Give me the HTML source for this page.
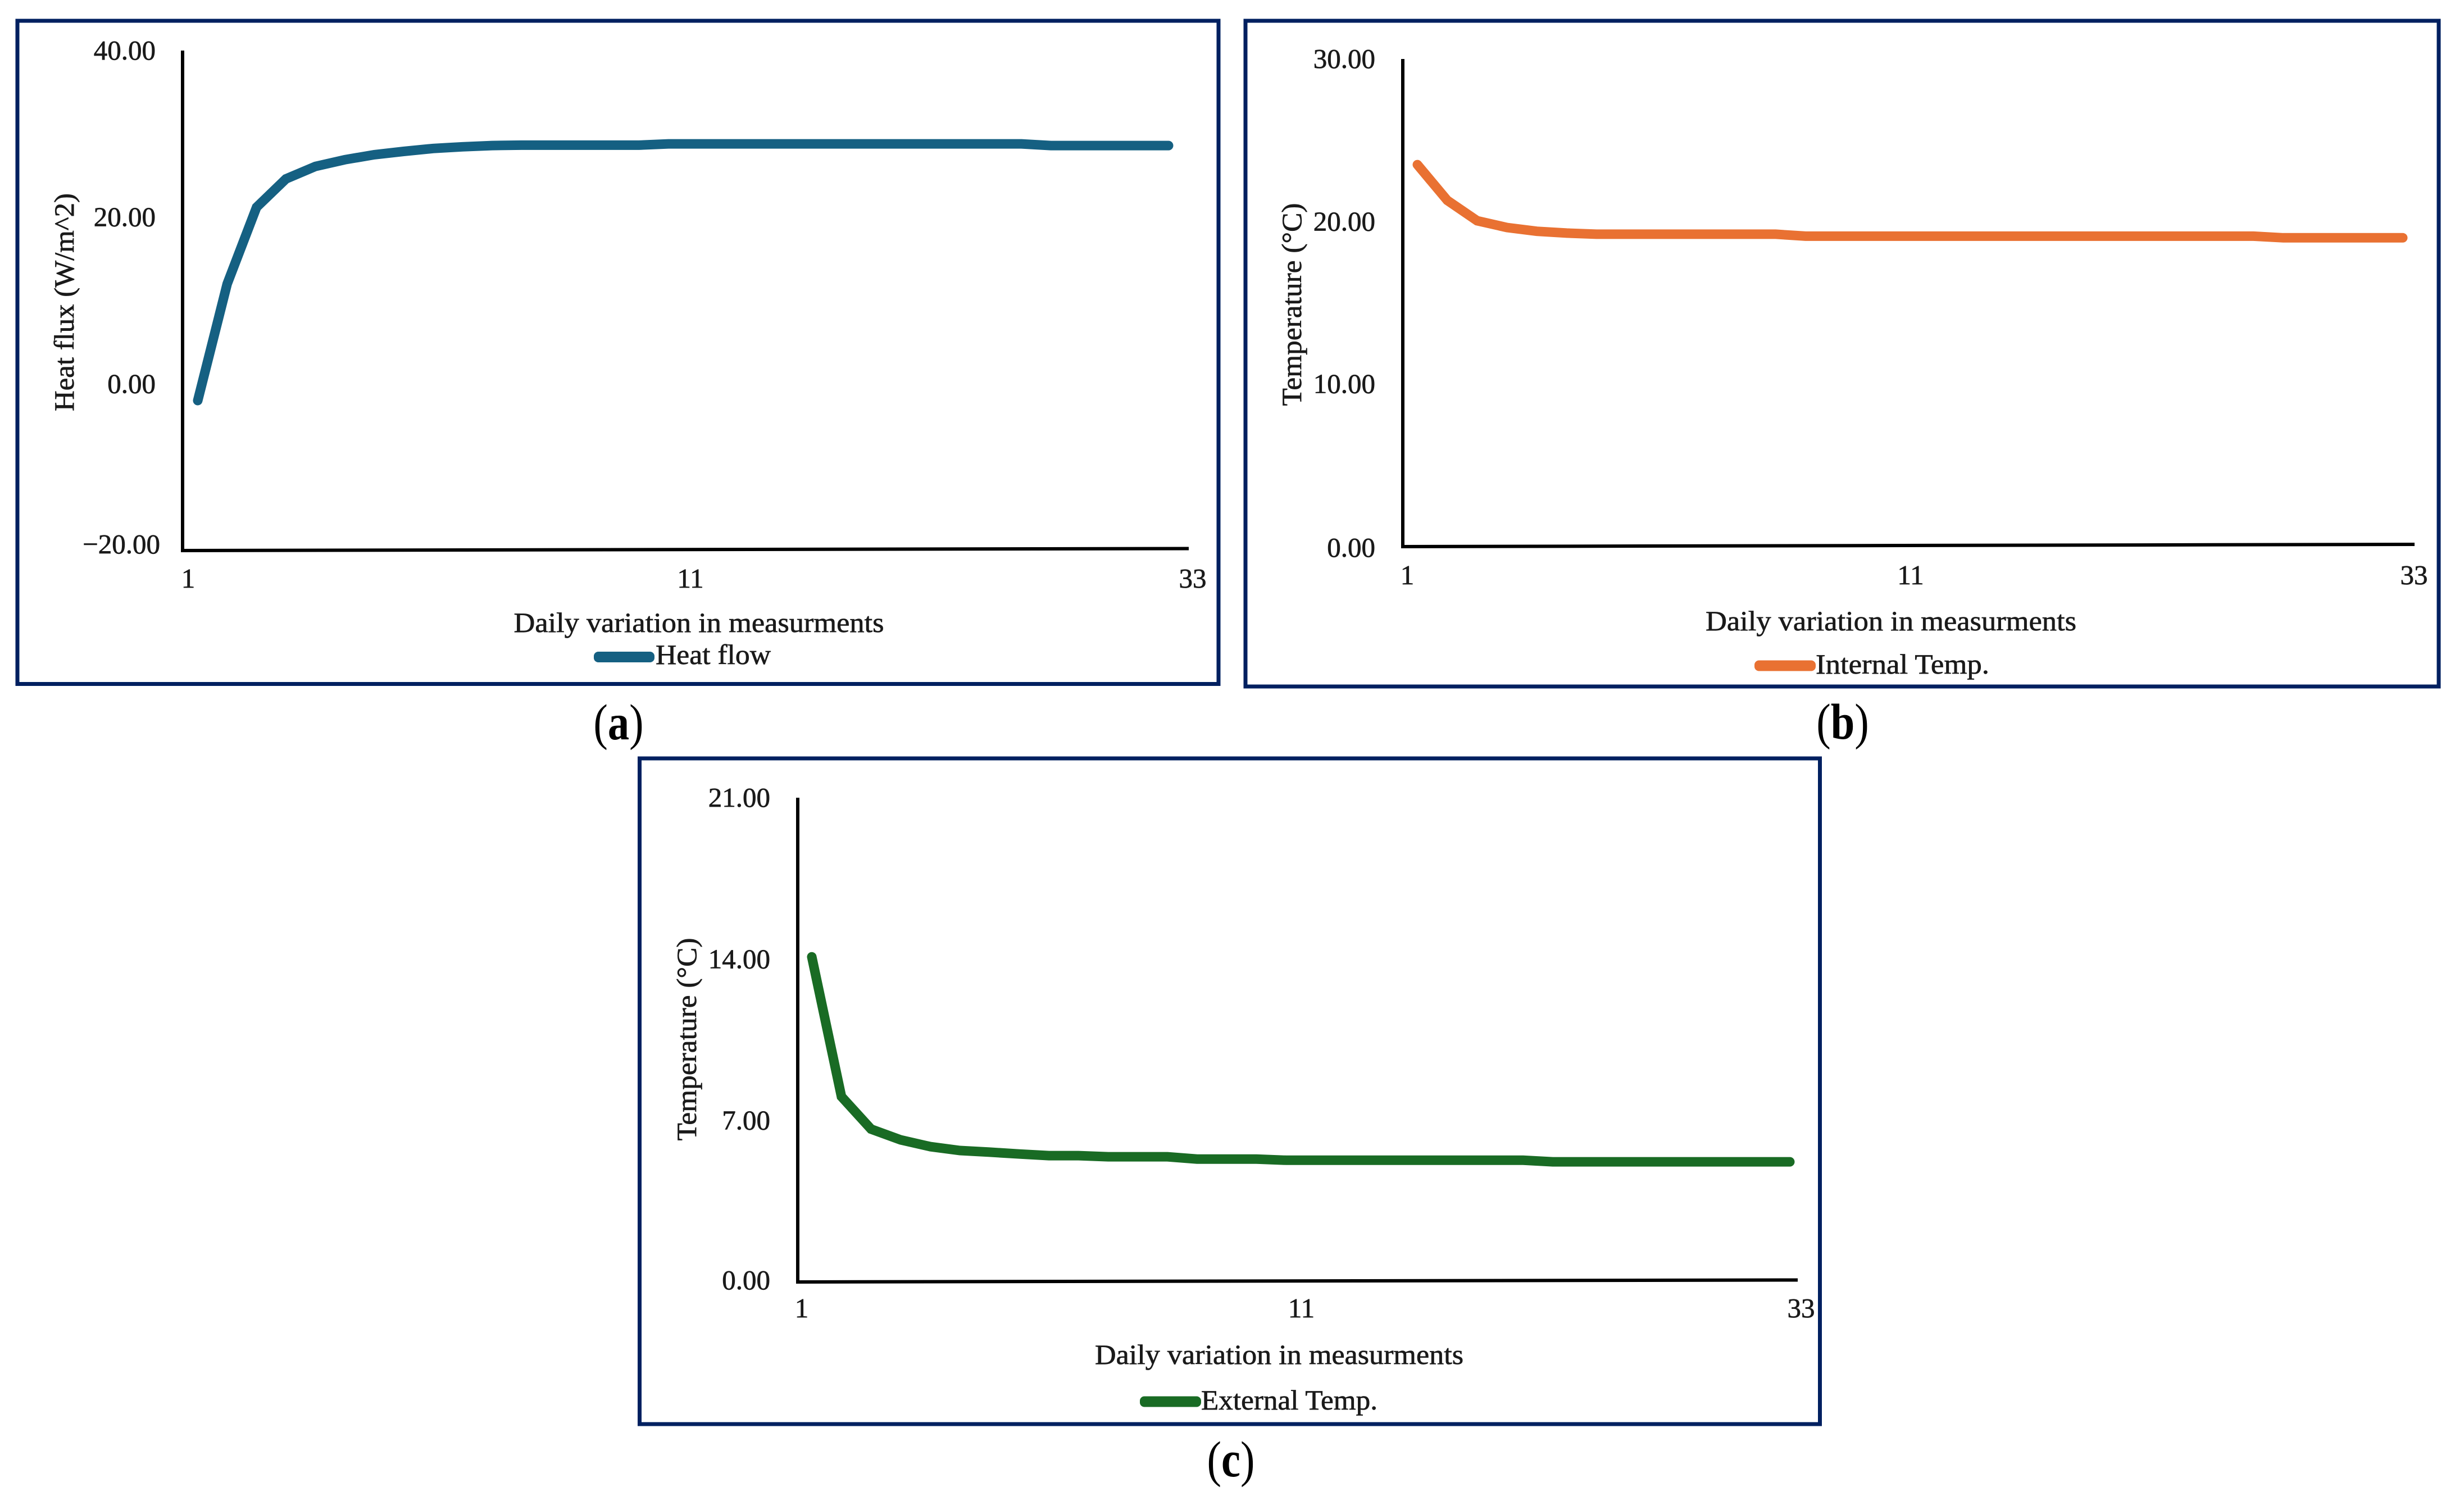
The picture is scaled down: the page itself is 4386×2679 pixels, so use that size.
<!DOCTYPE html>
<html lang="en">
<head>
<meta charset="utf-8">
<title>Heat flux and temperature daily variation charts</title>
<style>
html,body{margin:0;padding:0;background:#fff;}
svg{display:block;}
text{font-family:"Liberation Serif","DejaVu Serif",serif;fill:#1a1a1a;stroke:#1a1a1a;stroke-width:0.7px;}
.tick{font-size:49px;}
.title{font-size:50px;}
.legend{font-size:50px;}
.cap{font-size:90px;fill:#000;stroke:none;}
</style>
</head>
<body>
<svg id="figure" xmlns="http://www.w3.org/2000/svg" width="4386" height="2679" viewBox="0 0 4386 2679">
  <rect x="0" y="0" width="4386" height="2679" fill="#ffffff"/>

  <g id="panel-a">
    <rect x="31" y="37" width="2138" height="1180.5" fill="none" stroke="#002060" stroke-width="7"/>
    <text class="title" transform="translate(131,538) rotate(-90)" text-anchor="middle" textLength="388" lengthAdjust="spacingAndGlyphs">Heat flux (W/m^2)</text>
    <text class="title" x="1244" y="1125" text-anchor="middle" textLength="659" lengthAdjust="spacingAndGlyphs">Daily variation in measurments</text>
    <rect x="1057" y="1160" width="108" height="19" rx="8" fill="#156082"/>
    <text class="legend" x="1167" y="1182" textLength="205" lengthAdjust="spacingAndGlyphs">Heat flow</text>
    <text class="cap" transform="translate(1101,1316) scale(0.85,1)" text-anchor="middle">(<tspan font-weight="bold">a</tspan>)</text>
  </g>

  <g id="panel-b">
    <rect x="2217" y="37" width="2124" height="1185" fill="none" stroke="#002060" stroke-width="7"/>
    <text class="title" transform="translate(2316,542) rotate(-90)" text-anchor="middle" textLength="361" lengthAdjust="spacingAndGlyphs">Temperature (°C)</text>
    <text class="title" x="3366" y="1122" text-anchor="middle" textLength="660" lengthAdjust="spacingAndGlyphs">Daily variation in measurments</text>
    <rect x="3123" y="1175.5" width="109" height="19" rx="8" fill="#E97132"/>
    <text class="legend" x="3232" y="1199" textLength="309" lengthAdjust="spacingAndGlyphs">Internal Temp.</text>
    <text class="cap" transform="translate(3280,1315) scale(0.85,1)" text-anchor="middle">(<tspan font-weight="bold">b</tspan>)</text>
  </g>

  <g id="panel-c">
    <rect x="1138.5" y="1350" width="2101" height="1185" fill="none" stroke="#002060" stroke-width="7"/>
    <text class="title" transform="translate(1239,1850) rotate(-90)" text-anchor="middle" textLength="361" lengthAdjust="spacingAndGlyphs">Temperature (°C)</text>
    <text class="title" x="2277" y="2428" text-anchor="middle" textLength="656" lengthAdjust="spacingAndGlyphs">Daily variation in measurments</text>
    <rect x="2029" y="2485.5" width="109" height="19" rx="8" fill="#196B24"/>
    <text class="legend" x="2138" y="2509" textLength="314" lengthAdjust="spacingAndGlyphs">External Temp.</text>
    <text class="cap" transform="translate(2191,2628) scale(0.85,1)" text-anchor="middle">(<tspan font-weight="bold">c</tspan>)</text>
  </g>
</svg>
<script>
// Chart data
const xTickLabels = ["1", "11", "33"];

const heatFlowValues = [-2.0, 12.0, 21.2, 24.6, 26.1, 26.9, 27.5, 27.9, 28.25, 28.45, 28.6, 28.65, 28.65, 28.65, 28.65, 28.65,
  28.8, 28.8, 28.8, 28.8, 28.8, 28.8, 28.8, 28.8, 28.8, 28.8, 28.8, 28.8, 28.8,
  28.6, 28.6, 28.6, 28.6, 28.6];
const heatFlowTicks = [40, 20, 0, -20];
const heatFlowTickLabels = ["40.00", "20.00", "0.00", "\u221220.00"];

const internalTempValues = [23.5, 21.3, 20.05, 19.63, 19.4, 19.29, 19.22, 19.22, 19.22, 19.22, 19.22, 19.22, 19.22,
  19.1, 19.1, 19.1, 19.1, 19.1, 19.1, 19.1, 19.1, 19.1, 19.1, 19.1, 19.1, 19.1, 19.1, 19.1, 19.1,
  19.0, 19.0, 19.0, 19.0, 19.0];
const internalTempTicks = [30, 20, 10, 0];
const internalTempTickLabels = ["30.00", "20.00", "10.00", "0.00"];

const externalTempValues = [14.1, 8.04, 6.63, 6.16, 5.87, 5.70, 5.63, 5.55, 5.48, 5.48, 5.43, 5.43, 5.43, 5.33, 5.33, 5.33,
  5.28, 5.28, 5.28, 5.28, 5.28, 5.28, 5.28, 5.28, 5.28,
  5.21, 5.21, 5.21, 5.21, 5.21, 5.21, 5.21, 5.21, 5.21];
const externalTempTicks = [21, 14, 7, 0];
const externalTempTickLabels = ["21.00", "14.00", "7.00", "0.00"];

const SVG_NS = "http://www.w3.org/2000/svg";

function make(tag, attrs, parent) {
  const el = document.createElementNS(SVG_NS, tag);
  for (const k in attrs) el.setAttribute(k, attrs[k]);
  parent.appendChild(el);
  return el;
}

function drawPanel(id, values, ticks, tickLabels, layout) {
  const parent = document.getElementById("panel-" + id);
  const yRange = layout.yDomainMax - layout.yDomainMin;
  const yScale = v => layout.plotBottom - (v - layout.yDomainMin) / yRange * (layout.plotBottom - layout.plotTop);
  const xScale = i => layout.firstX + i * (layout.lastX - layout.firstX) / (values.length - 1);
  const xTickScale = i => layout.tickFirstX + i * (layout.tickLastX - layout.tickFirstX) / (xTickLabels.length - 1);

  const yAxis = make("line", {x1: layout.axisX, y1: layout.plotTop, x2: layout.axisX, y2: layout.plotBottom + 3, stroke: "#000", "stroke-width": 6}, parent);
  
  

  const xAxis = make("line", {x1: layout.axisX, y1: layout.plotBottom, x2: layout.axisEndX, y2: layout.plotBottom - layout.axisTilt, stroke: "#000", "stroke-width": 6}, parent);
  
  

  ticks.forEach((v, i) => {
    const isBottom = v === layout.yDomainMin;
    const label = make("text", {
      class: "tick",
      x: layout.tickRightX + (isBottom ? layout.bottomTickDx : 0),
      y: yScale(v) + 16 + (isBottom ? layout.bottomTickDy : 0),
      "text-anchor": "end"
    }, parent);
    label.textContent = tickLabels[i];
    
    
  });

  xTickLabels.forEach((t, i) => {
    const label = make("text", {class: "tick", x: xTickScale(i), y: layout.xTickBaseline, "text-anchor": "middle"}, parent);
    label.textContent = t;
    
    
  });

  const pts = values.map((v, i) => xScale(i).toFixed(1) + "," + yScale(v).toFixed(1)).join(" ");
  const line = make("polyline", {points: pts, fill: "none", stroke: layout.color, "stroke-width": 17, "stroke-linecap": "round", "stroke-linejoin": "miter"}, parent);
  
  
}

drawPanel("a", heatFlowValues, heatFlowTicks, heatFlowTickLabels, {
  yDomainMin: -20, yDomainMax: 40, plotTop: 90, plotBottom: 980, axisX: 325, axisEndX: 2116, axisTilt: 3.5,
  firstX: 352, lastX: 2080, tickRightX: 277, bottomTickDx: 8, bottomTickDy: -11,
  tickFirstX: 335, tickLastX: 2123, xTickBaseline: 1046, color: "#156082"
});
drawPanel("b", internalTempValues, internalTempTicks, internalTempTickLabels, {
  yDomainMin: 0, yDomainMax: 30, plotTop: 105, plotBottom: 973, axisX: 2497, axisEndX: 4298, axisTilt: 4,
  firstX: 2523, lastX: 4277, tickRightX: 2448, bottomTickDx: 0, bottomTickDy: 2,
  tickFirstX: 2505, tickLastX: 4297, xTickBaseline: 1040, color: "#E97132"
});
drawPanel("c", externalTempValues, externalTempTicks, externalTempTickLabels, {
  yDomainMin: 0, yDomainMax: 21, plotTop: 1420, plotBottom: 2282, axisX: 1420, axisEndX: 3200, axisTilt: 3.5,
  firstX: 1445, lastX: 3186, tickRightX: 1371, bottomTickDx: 0, bottomTickDy: -3,
  tickFirstX: 1427, tickLastX: 3206, xTickBaseline: 2345, color: "#196B24"
});
</script>
</body>
</html>
